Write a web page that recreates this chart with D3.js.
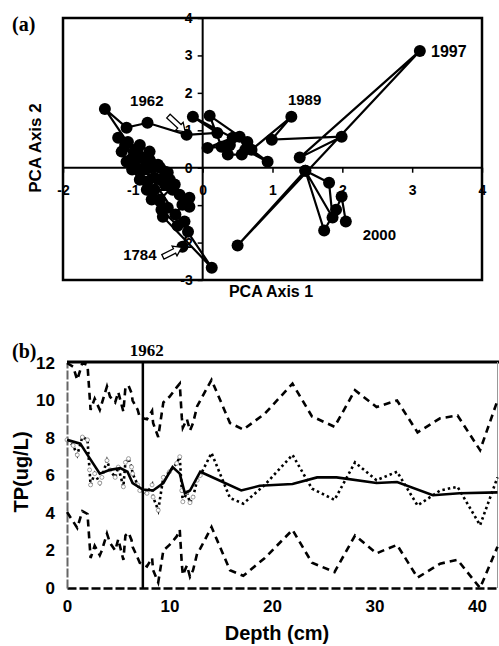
<!DOCTYPE html>
<html>
<head>
<meta charset="utf-8">
<script src="https://cdn.jsdelivr.net/npm/d3@7"></script>
<style>
  body { margin: 0; background: #fff; }
  svg { display: block; }
  text { font-family: Arial, "Liberation Sans", sans-serif; font-weight: bold; fill: #000; }
  .serif { font-family: "Times New Roman", "Liberation Serif", serif; }
</style>
</head>
<body>
<div id="chart"></div>
<script>
// ---- panel (a): PCA trajectory ----
const pcaX = [-0.29,-0.21,-0.26,-0.36,-0.59,-0.73,-0.80,-0.90,-1.01,-1.09,-1.16,-1.11,-0.97,-0.83,-0.50,-0.40,-0.61,-0.50,-0.39,-0.29,
              -0.19,-0.19,-0.33,-0.54,-0.69,-0.86,-1.00,-1.21,-1.07,-0.93,-0.76,-0.61,-0.47,-0.43,-0.69,-0.79,-0.90,-1.03,-0.97,-0.90,
              -0.76,-0.64,-0.54,-0.61,-0.76,-0.87,-0.57,0.13,-1.40,-1.09,-0.79,
              -0.23,0.21,-0.14,0.43,0.07,0.27,0.10,0.64,0.56,0.36,0.39,0.53,0.61,0.93,0.70,1.27,0.99,1.99,1.39,3.11,0.50,1.47,1.81,1.86,1.47,1.74,1.91,1.99,2.05];
const pcaY = [-2.11,-1.71,-1.44,-1.55,-1.12,-0.85,-0.59,-0.32,-0.05,0.16,0.43,0.61,0.21,-0.05,-0.13,-0.45,-0.85,-1.07,-1.25,-0.99,
              -0.80,-1.04,-0.72,-0.45,-0.27,-0.05,0.27,0.80,0.69,0.48,0.21,0.00,-0.32,-0.59,-0.59,-0.37,-0.05,0.21,0.48,0.61,
              0.43,0.08,-0.11,-0.32,0.00,0.27,-1.31,-2.67,1.57,1.07,1.20,
              0.88,0.93,1.36,0.80,0.53,0.56,1.39,0.69,0.35,0.35,0.61,0.83,0.48,0.16,0.48,1.36,0.75,0.83,0.27,3.12,-2.08,-0.08,-0.40,-1.33,-0.08,-1.68,-1.12,-0.77,-1.44];
const pcaTicksX = [-2,-1,0,1,2,3,4];
const pcaTicksY = [-3,-2,-1,0,1,2,3,4];
const yearLabels = ['1962','1989','1997','2000','1784'];
const yearLabelX = [-0.80, 1.46, 3.27, 2.53, -0.90];
const yearLabelY = [1.79, 1.81, 3.12, -1.79, -2.32];

// ---- panel (b): TP against depth ----
const depth = [0,0.6,1.0,1.5,2.0,2.2,2.3,2.7,3.2,3.4,3.9,4.2,4.7,5.0,5.5,5.7,6.0,6.3,6.4,6.9,7.1,7.8,8.3,8.4,8.9,9.4,10.0,10.7,11.0,11.2,11.3,11.7,12.0,12.3,12.7,13.0,
               14.1,15.9,17.2,19.3,22.0,23.9,26.1,28.1,30.2,32.2,34.2,36.4,38.1,40.3,42.0];
const tpObs = [7.9,7.6,7.1,8.05,7.9,6.3,5.5,6.1,5.6,5.9,6.8,6.3,5.9,6.45,5.4,6.7,6.9,6.45,6.1,5.5,5.2,5.05,5.5,4.85,4.15,5.9,6.2,6.65,7.0,5.2,4.6,5.1,4.55,4.85,5.75,6.0,
               7.2,4.8,4.5,5.5,7.1,5.3,4.7,6.7,5.75,6.2,4.4,5.2,5.4,3.35,5.9];
const tpUpper = [12.0,11.8,11.1,12.0,11.9,10.3,9.5,10.1,9.5,9.85,10.75,10.2,9.9,10.45,9.4,10.7,10.8,10.4,10.0,9.5,9.1,9.0,9.45,8.8,8.05,9.9,10.2,10.7,10.9,9.1,8.55,9.0,8.4,8.8,9.7,10.0,
                 11.1,8.8,8.45,9.3,10.9,9.15,8.6,10.55,9.65,10.0,8.3,9.05,9.2,7.35,10.0];
const tpLower = [4.05,3.55,3.2,4.1,3.95,2.4,1.6,2.25,1.75,2.0,2.9,2.4,2.0,2.6,1.5,2.8,2.95,2.55,2.2,1.6,1.35,1.15,1.6,0.95,0.3,2.0,2.3,2.75,3.1,1.3,0.7,1.2,0.6,0.95,1.85,2.1,
                 3.25,0.95,0.65,1.6,3.1,1.35,0.85,2.8,1.85,2.3,0.55,1.3,1.5,0,2.2];
const smoothDepth = [0,1.3,2.0,3.2,4.2,5.2,5.9,6.4,7.4,8.4,9.4,10.3,11.0,11.5,12.0,13.0,17.0,18.8,22.0,24.4,26.3,30.2,32.2,35.7,38.3,42.0];
const tpSmooth = [7.9,7.7,7.1,6.1,6.3,6.4,6.2,5.6,5.25,5.2,5.6,6.45,6.1,5.05,5.2,6.2,5.2,5.45,5.55,5.9,5.9,5.6,5.65,4.95,5.05,5.1];
const depthTicks = [0,10,20,30,40];
const tpTicks = [0,2,4,6,8,10,12];
const markDepth = 7.4; // 1962

const W = 499, H = 646;
const svg = d3.select('#chart').append('svg').attr('width', W).attr('height', H);

// ================= (a) =================
const xa = d3.scaleLinear().domain([-2, 4]).range([63, 482]);
const ya = d3.scaleLinear().domain([-3, 4]).range([280, 18]);
const ga = svg.append('g');

ga.append('rect')
  .attr('x', xa(-2)).attr('y', ya(4))
  .attr('width', xa(4) - xa(-2)).attr('height', ya(-3) - ya(4))
  .attr('fill', 'none').attr('stroke', '#000').attr('stroke-width', 2.5);

ga.append('line').attr('x1', xa(-2)).attr('x2', xa(4)).attr('y1', ya(0)).attr('y2', ya(0))
  .attr('stroke', '#000').attr('stroke-width', 2);
ga.append('line').attr('x1', xa(0)).attr('x2', xa(0)).attr('y1', ya(4)).attr('y2', ya(-3))
  .attr('stroke', '#000').attr('stroke-width', 2);

const axA = ga.append('g').attr('transform', 'translate(0,' + ya(0) + ')')
  .call(d3.axisBottom(xa).tickValues(pcaTicksX).tickSize(5).tickPadding(12).tickFormat(d => String(d)));
const ayA = ga.append('g').attr('transform', 'translate(' + xa(0) + ',0)')
  .call(d3.axisLeft(ya).tickValues(pcaTicksY).tickSize(5).tickPadding(5).tickFormat(d => String(d)));
[axA, ayA].forEach(a => {
  a.select('.domain').remove();
  a.selectAll('line').attr('stroke', '#000').attr('stroke-width', 1.5);
  a.selectAll('text').style('font-size', '14px').style('font-weight', 'bold').attr('fill', '#000')
    .style('font-family', 'Arial, "Liberation Sans", sans-serif');
});

const pts = pcaX.map((x, i) => ({x: x, y: pcaY[i]}));
ga.append('path').datum(pts)
  .attr('fill', 'none').attr('stroke', '#000').attr('stroke-width', 2.2)
  .attr('d', d3.line().x(d => xa(d.x)).y(d => ya(d.y)));
ga.selectAll('.pt').data(pts).enter().append('circle')
  .attr('class', 'pt')
  .attr('cx', d => xa(d.x)).attr('cy', d => ya(d.y))
  .attr('r', 6).attr('fill', '#000');

// hollow arrows pointing at 1962 and 1784
function hollowArrow(x0, y0, x1, y1) {
  const dx = x1 - x0, dy = y1 - y0, len = Math.hypot(dx, dy);
  const ux = dx / len, uy = dy / len, nx = -uy, ny = ux;
  const hl = 8, sw = 2.5, hw = 5.5;
  const p = (a, b) => [x0 + ux * a + nx * b, y0 + uy * a + ny * b];
  const poly = [p(0, -sw), p(len - hl, -sw), p(len - hl, -hw), p(len, 0), p(len - hl, hw), p(len - hl, sw), p(0, sw)];
  ga.append('path').attr('d', 'M' + poly.map(q => q.join(',')).join('L') + 'Z')
    .attr('fill', '#fff').attr('stroke', '#000').attr('stroke-width', 1.3);
}
hollowArrow(xa(-0.49), ya(1.38), xa(-0.25), ya(0.96));
hollowArrow(xa(-0.57), ya(-2.38), xa(-0.30), ya(-2.13));

ga.selectAll('.yr').data(yearLabels).enter().append('text')
  .attr('x', (d, i) => xa(yearLabelX[i])).attr('y', (d, i) => ya(yearLabelY[i]))
  .attr('dy', '0.36em')
  .attr('text-anchor', d => d === '1997' ? 'start' : 'middle')
  .style('font-size', d => d === '1997' ? '16px' : '15px')
  .text(d => d);

ga.append('text').attr('transform', 'translate(41,148) rotate(-90)')
  .attr('text-anchor', 'middle').style('font-size', '17px').text('PCA Axis 2');
ga.append('text').attr('x', 271).attr('y', 297)
  .attr('text-anchor', 'middle').style('font-size', '16px').text('PCA Axis 1');
ga.append('text').attr('class', 'serif').attr('x', 12).attr('y', 31)
  .style('font-size', '20px').text('(a)');

// ================= (b) =================
const xb = d3.scaleLinear().domain([0, 42]).range([67, 497.5]);
const yb = d3.scaleLinear().domain([0, 12]).range([588, 363]);
const gb = svg.append('g');

// axes
const axB = gb.append('g').attr('transform', 'translate(0,' + yb(0) + ')')
  .call(d3.axisBottom(xb).tickValues(depthTicks).tickSize(0).tickPadding(12));
const ayB = gb.append('g').attr('transform', 'translate(' + xb(0) + ',0)')
  .call(d3.axisLeft(yb).tickValues(tpTicks).tickSize(0).tickPadding(12));
axB.select('.domain').attr('stroke', '#000').attr('stroke-width', 2.5).attr('stroke-dasharray', '9,3');
ayB.select('.domain').attr('stroke', '#666').attr('stroke-width', 2).attr('stroke-dasharray', '9,2');
[axB, ayB].forEach(a => {
  a.selectAll('text').style('font-size', '17px').style('font-weight', 'bold').attr('fill', '#000')
    .style('font-family', 'Arial, "Liberation Sans", sans-serif');
});

// frame: heavy top, thin right
gb.append('line').attr('x1', xb(0)).attr('x2', 499).attr('y1', 362).attr('y2', 362)
  .attr('stroke', '#000').attr('stroke-width', 3);
gb.append('line').attr('x1', 497.5).attr('x2', 497.5).attr('y1', 362).attr('y2', yb(0))
  .attr('stroke', '#999').attr('stroke-width', 1);

const lineB = d3.line().x(d => xb(d[0])).y(d => yb(d[1]));
const obsPts = depth.map((d, i) => [d, tpObs[i]]);

gb.append('path').datum(depth.map((d, i) => [d, tpUpper[i]]))
  .attr('fill', 'none').attr('stroke', '#000').attr('stroke-width', 2.6).attr('stroke-dasharray', '7,5')
  .attr('d', lineB);
gb.append('path').datum(depth.map((d, i) => [d, tpLower[i]]))
  .attr('fill', 'none').attr('stroke', '#000').attr('stroke-width', 2.6).attr('stroke-dasharray', '7,5')
  .attr('d', lineB);
gb.append('path').datum(obsPts)
  .attr('fill', 'none').attr('stroke', '#000').attr('stroke-width', 2.6).attr('stroke-dasharray', '2.5,3')
  .attr('d', lineB);
gb.selectAll('.obs').data(obsPts.filter(d => d[0] <= 13)).enter().append('circle')
  .attr('class', 'obs')
  .attr('cx', d => xb(d[0])).attr('cy', d => yb(d[1])).attr('r', 2)
  .attr('fill', '#fff').attr('stroke', '#888').attr('stroke-width', 0.8);
gb.append('path').datum(smoothDepth.map((d, i) => [d, tpSmooth[i]]))
  .attr('fill', 'none').attr('stroke', '#000').attr('stroke-width', 2.6)
  .attr('d', lineB);

// 1962 marker line
gb.append('line').attr('x1', xb(markDepth)).attr('x2', xb(markDepth)).attr('y1', 362).attr('y2', yb(0))
  .attr('stroke', '#000').attr('stroke-width', 2.5);
gb.append('text').attr('class', 'serif').attr('x', xb(markDepth) + 4).attr('y', 356)
  .attr('text-anchor', 'middle').style('font-size', '17px').text('1962');
gb.append('text').attr('class', 'serif').attr('x', 12).attr('y', 358)
  .style('font-size', '20px').text('(b)');

gb.append('text').attr('transform', 'translate(28,472) rotate(-90)')
  .attr('text-anchor', 'middle').style('font-size', '20px').text('TP(ug/L)');
gb.append('text').attr('x', 277).attr('y', 640)
  .attr('text-anchor', 'middle').style('font-size', '20px').text('Depth (cm)');
</script>
</body>
</html>
